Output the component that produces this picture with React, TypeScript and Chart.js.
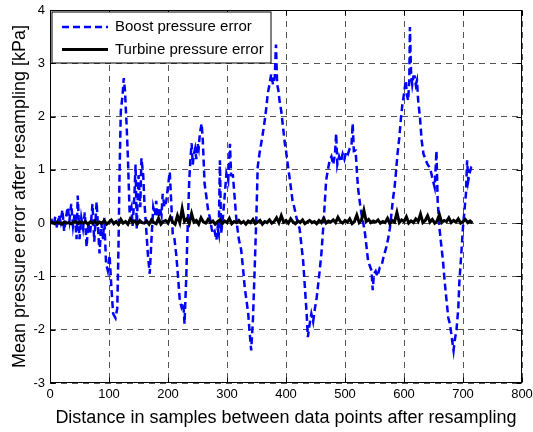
import React, { useEffect, useRef } from 'react';
import { Chart, registerables } from 'chart.js';

Chart.register(...registerables);

const xTicks = [0, 100, 200, 300, 400, 500, 600, 700, 800];
const yTicks = [-3, -2, -1, 0, 1, 2, 3, 4];

const legendLabels = ['Boost pressure error', 'Turbine pressure error'];
const xTitle = 'Distance in samples between data points after resampling';
const yTitle = 'Mean pressure error after resampling [kPa]';

const boostX = [
  0, 3, 6, 9, 12, 15, 18, 21, 24, 27, 30, 33, 36, 39, 42, 45, 47, 50, 53, 56,
  59, 62, 65, 68, 72, 75, 79, 82, 84, 87, 90, 92, 95, 98, 101, 104, 107, 111, 114, 116,
  118, 120, 123, 125, 127, 130, 132, 135, 138, 140, 143, 145, 147, 150, 153, 155, 158, 160, 163, 166,
  169, 172, 175, 178, 180, 183, 186, 189, 191, 194, 197, 200, 203, 205, 208, 211, 214, 217, 220, 223,
  226, 228, 231, 233, 236, 238, 240, 242, 244, 246, 248, 250, 252, 254, 257, 259, 262, 265, 268, 271,
  274, 276, 279, 282, 284, 286, 288, 290, 293, 296, 299, 302, 305, 307, 310, 312, 316, 320, 324, 327,
  330, 333, 336, 338, 341, 344, 347, 350, 352, 355, 358, 361, 364, 367, 369, 372, 375, 378, 381, 383,
  385, 387, 389, 392, 395, 398, 400, 403, 406, 409, 411, 414, 417, 420, 423, 426, 429, 432, 435, 437,
  440, 443, 446, 449, 452, 454, 457, 460, 463, 466, 468, 471, 474, 477, 480, 483, 485, 487, 490, 493,
  496, 499, 502, 505, 508, 511, 513, 515, 518, 520, 522, 525, 528, 531, 534, 537, 539, 542, 545, 547,
  549, 552, 555, 559, 562, 565, 567, 570, 573, 576, 579, 581, 584, 586, 589, 592, 595, 597, 600, 603,
  605, 607, 609, 610, 612, 614, 616, 618, 620, 622, 624, 627, 630, 633, 637, 640, 643, 646, 649, 652,
  655, 657, 660, 663, 666, 669, 671, 675, 678, 680, 684, 686, 689, 692, 694, 697, 700, 703, 705, 707,
  709, 711, 714, 717,
];

const boostY = [
  0.0, 0.05, -0.05, 0.12, -0.1, 0.15, 0.02, 0.25, -0.15, 0.1, 0.3, 0.05, 0.36, -0.05, 0.2, -0.3, 0.52, -0.3, 0.1, -0.1,
  0.2, -0.45, 0.0, -0.2, 0.36, -0.35, 0.4, -0.2, -0.57, 0.0, -0.3, 0.1, -0.76, -0.89, -0.6, -1.2, -1.7, -1.78, -1.6, -0.5,
  1.0, 2.1, 2.4, 2.72, 2.5, 1.8, 1.24, 0.18, 0.3, -0.05, 0.5, 1.1, -0.1, 0.9, 0.3, 1.22, 0.9, 0.4, -0.1, -0.6,
  -0.95, -0.3, 0.3, 0.15, 0.42, 0.0, 0.3, 0.15, 0.55, 0.3, 0.4, 0.7, 0.96, 0.5, -0.2, -0.3, -0.6, -1.0, -1.45, -1.58,
  -1.5, -1.89, -1.0, -0.2, 0.8, 1.2, 1.5, 1.1, 1.3, 1.4, 1.2, 1.5, 1.4, 1.68, 1.87, 1.55, 0.74, 0.5, 0.24, 0.1,
  -0.1, -0.2, -0.15, -0.32, -0.1, -0.2, 1.18, -0.2, 0.1, 0.5, 0.93, 0.8, 1.49, 0.9, 0.9, 0.62, 0.05, -0.3, -0.5, -0.83,
  -1.2, -1.45, -1.7, -2.0, -2.39, -1.8, -0.83, 0.2, 1.05, 1.3, 1.5, 1.7, 1.93, 2.2, 2.43, 2.6, 2.8, 2.6, 2.75, 3.35,
  2.6, 2.5, 2.3, 2.1, 1.8, 1.5, 1.36, 1.1, 0.86, 0.6, 0.43, 0.3, 0.14, 0.0, -0.1, -0.4, -0.7, -1.2, -1.7, -2.14,
  -1.9, -1.7, -1.85, -1.6, -1.4, -1.2, -0.9, -0.57, -0.1, 0.43, 0.8, 1.0, 1.18, 1.25, 1.1, 1.3, 1.68, 1.1, 1.25, 1.15,
  1.3, 1.2, 1.35, 1.3, 1.4, 1.45, 1.87, 1.35, 1.36, 1.0, 0.67, 0.4, 0.17, 0.0, -0.2, -0.5, -0.7, -0.8, -0.89, -1.26,
  -0.95, -0.9, -1.0, -0.83, -0.8, -0.65, -0.57, -0.45, -0.3, -0.1, 0.2, 0.43, 0.67, 0.9, 1.3, 1.6, 1.99, 2.2, 2.43, 2.68,
  2.4, 2.3, 2.68, 3.68, 2.8, 2.6, 2.75, 2.75, 2.6, 2.68, 2.3, 1.99, 1.55, 1.3, 1.18, 1.1, 1.05, 0.95, 0.8, 0.67,
  1.36, 0.43, -0.08, -0.4, -0.7, -1.1, -1.33, -1.77, -1.9, -2.07, -2.39, -2.2, -2.0, -1.6, -1.07, -0.6, -0.07, 0.3, 0.55, 1.18,
  0.8, 0.93, 1.05, 1.08,
];

// turbine samples every 4 positions from 0 to 716
const turbineStep = 4;
const turbineY = [
  0.00, 0.01, -0.01, 0.02, 0.00, -0.02, 0.02, 0.00, 0.01, -0.01, 0.02, 0.03, -0.01, 0.02, 0.00, 0.03, -0.02, 0.02, 0.00, 0.04,
  -0.02, 0.02, 0.00, 0.05, -0.02, 0.02, 0.06, -0.01, 0.03, -0.02, 0.07, 0.00, 0.03, -0.02, 0.08, 0.01, 0.04, -0.02, 0.05, 0.01,
  0.00, 0.04, -0.02, 0.06, 0.01, -0.01, 0.09, -0.02, 0.03, 0.05, 0.00, 0.11, 0.02, -0.02, 0.14, 0.01, 0.27, 0.03, 0.08, -0.01,
  0.18, 0.02, 0.05, -0.02, 0.10, 0.02, 0.00, 0.07, 0.01, 0.04, -0.02, 0.03, 0.06, -0.01, 0.04, 0.01, 0.09, -0.01, 0.03, 0.01,
  0.05, 0.00, 0.03, -0.02, 0.04, 0.01, 0.07, -0.01, 0.02, 0.05, -0.02, 0.03, 0.01, 0.06, 0.00, 0.03, 0.10, 0.01, 0.14, 0.02,
  0.05, 0.00, 0.08, 0.02, -0.01, 0.04, 0.01, 0.06, -0.01, 0.02, 0.05, 0.01, 0.03, -0.01, 0.05, 0.01, 0.09, 0.00, 0.04, 0.02,
  0.06, 0.01, 0.11, 0.03, 0.00, 0.05, 0.02, 0.08, -0.01, 0.03, 0.15, 0.01, 0.06, 0.24, 0.03, 0.07, 0.01, 0.04, 0.02, 0.06,
  0.00, 0.03, 0.01, 0.09, -0.01, 0.05, 0.02, 0.20, 0.01, 0.06, 0.03, 0.12, 0.00, 0.04, 0.01, 0.08, 0.03, 0.17, 0.01, 0.05,
  0.14, 0.02, 0.07, 0.00, 0.04, 0.16, 0.01, 0.05, 0.03, 0.10, 0.01, 0.05, 0.02, 0.08, 0.00, 0.03, 0.07, 0.01, 0.04, 0.00,
];

const FONT = "'Liberation Sans', Arial, Helvetica, sans-serif";
const BLUE = '#0000ff';
const BLUE_DASH = [7, 4];

const framePlugin = {
  id: 'matlabFrame',
  afterDraw(chart: any) {
    const { ctx, chartArea, scales } = chart;
    const l = Math.round(chartArea.left) + 0.5;
    const r = Math.round(chartArea.right) - 0.5;
    const t = Math.round(chartArea.top) + 0.5;
    const b = Math.round(chartArea.bottom) - 0.5;
    ctx.save();
    ctx.setLineDash([]);
    ctx.strokeStyle = '#000';
    ctx.lineWidth = 1;
    ctx.beginPath();
    const tl = 5;
    xTicks.forEach((v) => {
      const px = Math.round(scales.x.getPixelForValue(v)) + 0.5;
      ctx.moveTo(px, b); ctx.lineTo(px, b - tl);
      ctx.moveTo(px, t); ctx.lineTo(px, t + tl);
    });
    yTicks.forEach((v) => {
      const py = Math.round(scales.y.getPixelForValue(v)) + 0.5;
      ctx.moveTo(l, py); ctx.lineTo(l + tl, py);
      ctx.moveTo(r, py); ctx.lineTo(r - tl, py);
    });
    ctx.stroke();
    ctx.strokeRect(l, t, r - l, b - t);

    // legend
    const lx = l + 1.5, ly = t + 1.5, lw = 219, lh = 51;
    ctx.fillStyle = '#fff';
    ctx.fillRect(lx, ly, lw, lh);
    ctx.strokeRect(lx, ly, lw, lh);
    const rows = [ly + 15, ly + 37.5];
    ctx.beginPath();
    ctx.strokeStyle = BLUE;
    ctx.lineWidth = 2.5;
    ctx.setLineDash(BLUE_DASH);
    ctx.moveTo(lx + 10, rows[0]); ctx.lineTo(lx + 56, rows[0]);
    ctx.stroke();
    ctx.beginPath();
    ctx.setLineDash([]);
    ctx.strokeStyle = '#000';
    ctx.lineWidth = 3;
    ctx.moveTo(lx + 10, rows[1]); ctx.lineTo(lx + 56, rows[1]);
    ctx.stroke();
    ctx.fillStyle = '#000';
    ctx.font = `15px ${FONT}`;
    ctx.textBaseline = 'middle';
    ctx.textAlign = 'left';
    ctx.fillText(legendLabels[0], lx + 63, rows[0]);
    ctx.fillText(legendLabels[1], lx + 63, rows[1]);
    ctx.restore();
  },
};

export default function App() {
  const ref = useRef<HTMLCanvasElement | null>(null);

  useEffect(() => {
    document.body.style.margin = '0';
    const canvas = ref.current;
    if (!canvas) return;
    const boostData = boostX.map((x, i) => ({ x, y: boostY[i] }));
    const turbineData = turbineY.map((y, i) => ({ x: i * turbineStep, y }));

    const chart = new Chart(canvas, {
      type: 'line',
      data: {
        datasets: [
          {
            label: legendLabels[0],
            data: boostData,
            borderColor: BLUE,
            borderWidth: 2.5,
            borderDash: BLUE_DASH,
            pointRadius: 0,
            tension: 0,
            fill: false,
            order: 1,
          },
          {
            label: legendLabels[1],
            data: turbineData,
            borderColor: '#000',
            borderWidth: 3,
            pointRadius: 0,
            tension: 0,
            fill: false,
            order: 0,
          },
        ],
      },
      options: {
        responsive: false,
        animation: false,
        events: [],
        layout: { padding: { left: 0, right: 11, top: 10, bottom: 0 } },
        plugins: {
          legend: { display: false },
          tooltip: { enabled: false },
        },
        scales: {
          x: {
            type: 'linear',
            min: 0,
            max: 800,
            afterFit: (s: any) => { s.height = 49; s.paddingLeft = 0; s.paddingRight = 0; },
            afterBuildTicks: (s: any) => { s.ticks = xTicks.map((v) => ({ value: v })); },
            ticks: { padding: 4, color: '#000', font: { family: FONT, size: 13 } },
            grid: { color: '#555', lineWidth: 1, drawTicks: false },
            border: { display: false, dash: [6, 5] },
            title: {
              display: true,
              text: xTitle,
              color: '#000',
              font: { family: FONT, size: 18 },
              padding: { top: 0, bottom: 3 },
            },
          },
          y: {
            type: 'linear',
            min: -3,
            max: 4,
            afterFit: (s: any) => { s.width = 50; s.paddingTop = 0; s.paddingBottom = 0; },
            afterBuildTicks: (s: any) => { s.ticks = yTicks.map((v) => ({ value: v })); },
            ticks: { padding: 5, color: '#000', font: { family: FONT, size: 13 } },
            grid: { color: '#555', lineWidth: 1, drawTicks: false },
            border: { display: false, dash: [6, 5] },
            title: {
              display: true,
              text: yTitle,
              color: '#000',
              font: { family: FONT, size: 18 },
              padding: { top: 9, bottom: 0 },
            },
          },
        },
      },
      plugins: [framePlugin],
    });
    return () => chart.destroy();
  }, []);

  return (
    <div style={{ width: 533, height: 432 }}>
      <canvas ref={ref} width={533} height={432} style={{ display: 'block' }} />
    </div>
  );
}
